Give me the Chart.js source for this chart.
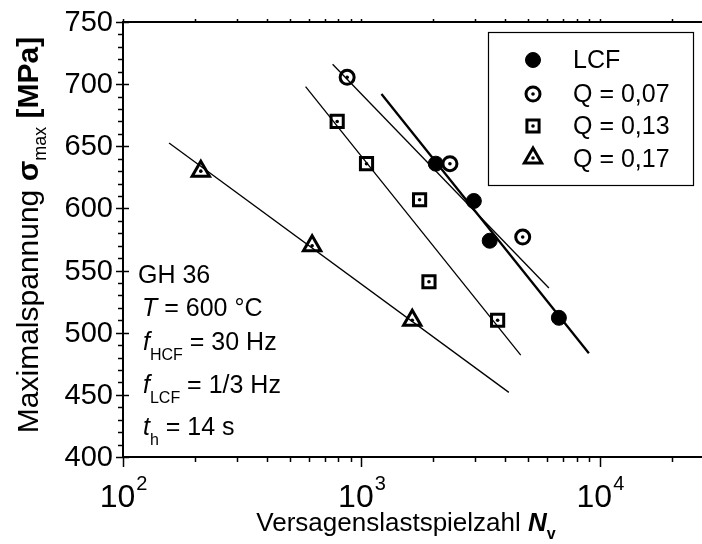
<!DOCTYPE html>
<html><head><meta charset="utf-8">
<script src="https://cdn.jsdelivr.net/npm/chart.js@4.4.0/dist/chart.umd.min.js"></script>
<style>html,body{margin:0;padding:0;background:#fff}#wrap{width:702px;height:544px;position:relative}</style>
</head><body><div id="wrap"><canvas id="c"></canvas></div>
<script>
// ---- data ----
const seriesNames = ['LCF', 'Q = 0,07', 'Q = 0,13', 'Q = 0,17'];
const nLCF = [2050, 2960, 3450, 6730];
const sLCF = [636, 606, 574, 512];
const nQ07 = [871, 2350, 4745];
const sQ07 = [705.5, 636, 577];
const nQ13 = [791, 1050, 1753, 1919, 3724];
const sQ13 = [670, 636, 607, 541, 510];
const nQ17 = [212, 621, 1633];
const sQ17 = [630, 570, 510];
// fitted lines (end points)
const fitLCF_N = [1213, 8990], fitLCF_S = [692, 483.5];
const fitQ07_N = [757, 6110],  fitQ07_S = [716, 536];
const fitQ13_N = [583, 4656],  fitQ13_S = [698, 482];
const fitQ17_N = [156, 4150],  fitQ17_S = [652.6, 452];
const yTickLabels = [400, 450, 500, 550, 600, 650, 700, 750];
const xTickExponents = [2, 3, 4];
const infoLines = [
  [{t:'GH 36'}],
  [{t:'T', it:true}, {t:' = 600 °C'}],
  [{t:'f', it:true}, {t:'HCF', sub:true}, {t:' = 30 Hz'}],
  [{t:'f', it:true}, {t:'LCF', sub:true}, {t:' = 1/3 Hz'}],
  [{t:'t', it:true}, {t:'h', sub:true}, {t:' = 14 s'}]
];

const FF = "'Liberation Sans', Arial, sans-serif";
const xy = (ns, ss) => ns.map((n, i) => ({x: n, y: ss[i]}));

const markerStyles = [
  {pointStyle:'circle', radius:7.5, fill:'#000', bw:1, dot:false},
  {pointStyle:'circle', radius:7, fill:'rgba(0,0,0,0)', bw:3, dot:true},
  {pointStyle:'rect', radius:8.6, fill:'rgba(0,0,0,0)', bw:3, dot:true},
  {pointStyle:'triangle', radius:10, fill:'rgba(0,0,0,0)', bw:3, dot:true}
];
const pointSets = [xy(nLCF, sLCF), xy(nQ07, sQ07), xy(nQ13, sQ13), xy(nQ17, sQ17)];
const fitSets = [[xy(fitLCF_N, fitLCF_S), 2.3], [xy(fitQ07_N, fitQ07_S), 1.3], [xy(fitQ13_N, fitQ13_S), 1.3], [xy(fitQ17_N, fitQ17_S), 1.3]];

const datasets = [];
fitSets.forEach(([d, w]) => datasets.push({data: d, showLine: true, borderColor: '#000', borderWidth: w, pointRadius: 0, pointHoverRadius: 0, fill: false}));
pointSets.forEach((d, i) => {
  const m = markerStyles[i];
  datasets.push({label: seriesNames[i], data: d, showLine: false, pointStyle: m.pointStyle, pointRadius: m.radius,
    pointHoverRadius: m.radius, pointBackgroundColor: m.fill, pointBorderColor: '#000', pointBorderWidth: m.bw, dotted: m.dot});
});

function fontOf(p, size, subSize) {
  return (p.it ? 'italic ' : '') + (p.b ? 'bold ' : '') + (p.sub ? subSize : size) + 'px ' + FF;
}
function richWidth(ctx, parts, size, subSize) {
  let w = 0;
  parts.forEach(p => { ctx.font = fontOf(p, size, subSize); w += ctx.measureText(p.t).width; });
  return w;
}
function drawRich(ctx, parts, x, y, size, subSize, subDy) {
  parts.forEach(p => {
    ctx.font = fontOf(p, size, subSize);
    ctx.fillText(p.t, x, y + (p.sub ? subDy : 0));
    x += ctx.measureText(p.t).width;
  });
}

const decor = {
  id: 'decor',
  beforeDatasetsDraw(chart) {
    const ctx = chart.ctx, xs = chart.scales.x, ys = chart.scales.y, ca = chart.chartArea;
    ctx.save();
    ctx.strokeStyle = '#000'; ctx.lineWidth = 2; ctx.lineCap = 'butt';
    const L = (a, b, c, d) => { ctx.beginPath(); ctx.moveTo(a, b); ctx.lineTo(c, d); ctx.stroke(); };
    L(ca.left, ca.top - 1, ca.left, ca.bottom + 1);
    L(ca.left - 1, ca.bottom, ca.right, ca.bottom);
    L(ca.left - 1, ca.top, ca.right, ca.top);
    ctx.lineWidth = 1.5;
    for (let v = ys.min; v <= ys.max + 0.01; v += 10) {
      const y = Math.round(ys.getPixelForValue(v)) + 0.5;
      if (Math.round(v) % 50 === 0) L(ca.left - 7, y, ca.left + 6, y);
      else L(ca.left - 5, y, ca.left, y);
    }
    for (let d = 2; d <= 4; d++) {
      for (let k = 1; k <= 9; k++) {
        const v = k * Math.pow(10, d);
        if (v > xs.max) break;
        const x = Math.round(xs.getPixelForValue(v)) + 0.5;
        L(x, ca.bottom, x, ca.bottom + (k === 1 ? 10 : 5));
        L(x, ca.top, x, ca.top - 3);
      }
    }
    ctx.fillStyle = '#000';
    // y tick labels
    ctx.font = '29px ' + FF; ctx.textAlign = 'right'; ctx.textBaseline = 'middle';
    yTickLabels.forEach(v => ctx.fillText(String(v), 113, ys.getPixelForValue(v) + 1));
    // x tick labels
    ctx.textAlign = 'left'; ctx.textBaseline = 'alphabetic';
    xTickExponents.forEach(e => {
      const x = xs.getPixelForValue(Math.pow(10, e));
      ctx.font = '32px ' + FF; const w1 = ctx.measureText('10').width;
      ctx.font = '20px ' + FF; const w2 = ctx.measureText(String(e)).width;
      const x0 = x - (w1 + w2) / 2;
      ctx.font = '32px ' + FF; ctx.fillText('10', x0, 507);
      ctx.font = '20px ' + FF; ctx.fillText(String(e), x0 + w1 + 1, 490);
    });
    // axis titles
    const xt = [{t:'Versagenslastspielzahl '}, {t:'N', it:true, b:true}, {t:'v', sub:true, b:true}];
    const wx = richWidth(ctx, xt, 26, 16);
    drawRich(ctx, xt, 406 - wx / 2, 531, 26, 16, 8);
    const yt = [{t:'Maximalspannung '}, {t:'σ', b:true}, {t:'max', sub:true}, {t:' [MPa]', b:true}];
    const wy = richWidth(ctx, yt, 30, 18);
    ctx.save(); ctx.translate(38, 235); ctx.rotate(-Math.PI / 2);
    drawRich(ctx, yt, -wy / 2, 0, 30, 18, 8);
    ctx.restore();
    // info text
    const bases = [283, 316, 350, 393, 435];
    const xst = [138, 142, 143, 143, 143];
    infoLines.forEach((ln, i) => drawRich(ctx, ln, xst[i], bases[i], 25, 16, 10));
    ctx.restore();
  },
  afterDatasetsDraw(chart) {
    const ctx = chart.ctx;
    ctx.save(); ctx.fillStyle = '#000';
    chart.data.datasets.forEach((ds, i) => {
      if (!ds.dotted) return;
      chart.getDatasetMeta(i).data.forEach(el => {
        ctx.beginPath(); ctx.arc(el.x, el.y, 1.8, 0, Math.PI * 2); ctx.fill();
      });
    });
    // legend
    ctx.strokeStyle = '#000'; ctx.lineWidth = 1.2;
    ctx.strokeRect(488.5, 32.5, 205, 153);
    const rowsY = [60, 94, 126, 158];
    const baseY = [68, 102, 134, 167];
    seriesNames.forEach((name, i) => {
      const m = markerStyles[i];
      ctx.fillStyle = m.fill; ctx.strokeStyle = '#000'; ctx.lineWidth = m.bw;
      Chart.helpers.drawPoint(ctx, {pointStyle: m.pointStyle, radius: m.radius, rotation: 0, borderWidth: m.bw}, 533, rowsY[i]);
      ctx.fillStyle = '#000';
      if (m.dot) { ctx.beginPath(); ctx.arc(533, rowsY[i], 1.8, 0, Math.PI * 2); ctx.fill(); }
      ctx.font = '25px ' + FF; ctx.textAlign = 'left'; ctx.textBaseline = 'alphabetic';
      ctx.fillText(name, 573, baseY[i]);
    });
    ctx.restore();
  }
};

new Chart(document.getElementById('c'), {
  type: 'scatter',
  data: {datasets},
  options: {
    responsive: true, maintainAspectRatio: false, animation: false,
    events: [],
    layout: {autoPadding: false, padding: {left: 123, top: 22, right: 0, bottom: 87}},
    plugins: {legend: {display: false}, tooltip: {enabled: false}},
    scales: {
      x: {type: 'logarithmic', min: 100, max: 26800, display: false},
      y: {type: 'linear', min: 400, max: 750, display: false}
    }
  },
  plugins: [decor]
});
</script></body></html>
